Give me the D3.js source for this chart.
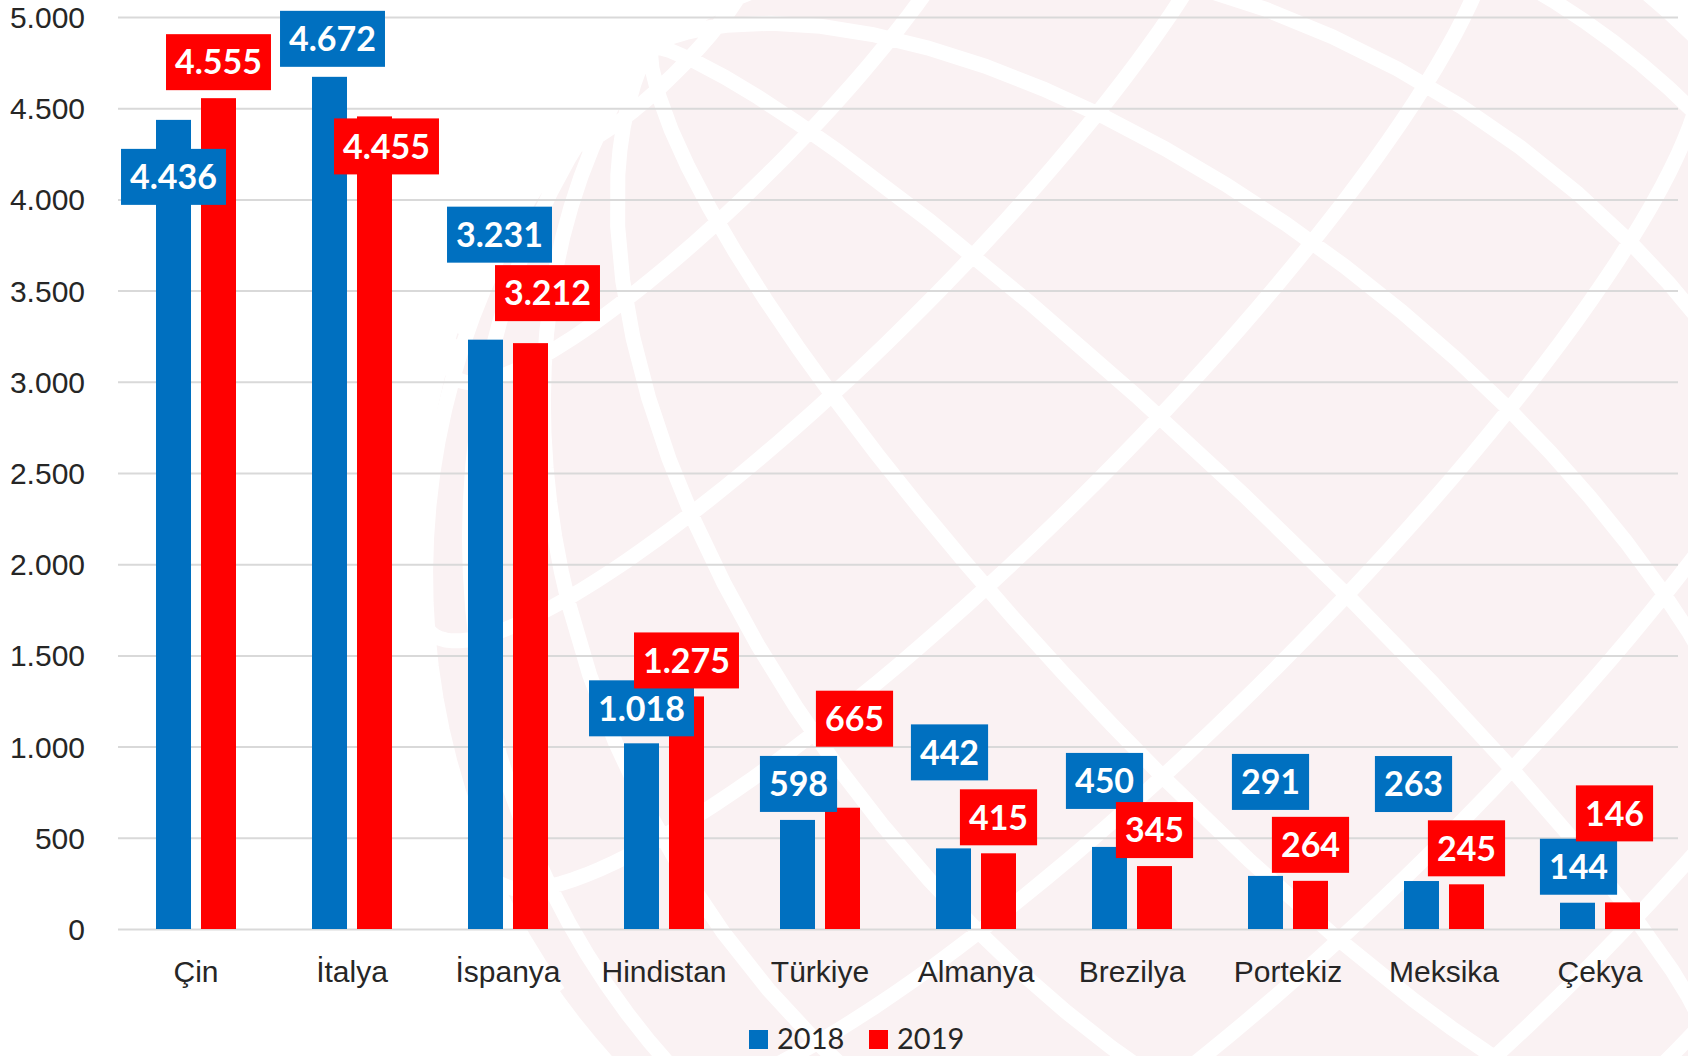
<!DOCTYPE html>
<html>
<head>
<meta charset="utf-8">
<script src="https://cdn.jsdelivr.net/npm/d3@7"></script>
<style>
  body { margin: 0; background: #fff; }
  svg { display: block; font-family: Lato, "Open Sans", sans-serif; }
  .grid line { stroke: #d9d9d9; stroke-width: 2; }
  .grid path { display: none; }
  .axis path { display: none; }
  .axis text { fill: #262626; font-size: 30px; }
  .bar-label { fill: #fff; font-size: 34px; font-weight: bold; }
  .legend text { fill: #262626; font-size: 29px; }
</style>
</head>
<body>
<div id="chart"></div>
<script>
var categories = ['Çin', 'İtalya', 'İspanya', 'Hindistan', 'Türkiye', 'Almanya', 'Brezilya', 'Portekiz', 'Meksika', 'Çekya'];
var years = ['2018', '2019'];
var values2018 = [4436, 4672, 3231, 1018, 598, 442, 450, 291, 263, 144];
var values2019 = [4555, 4455, 3212, 1275, 665, 415, 345, 264, 245, 146];
var yTicks = [0, 500, 1000, 1500, 2000, 2500, 3000, 3500, 4000, 4500, 5000];

// hand-placed label nudges (dx, dy) from the default "above bar" spot
var labelShift2018 = [[0, 93], [3, -2], [14, -69], [0, 1], [1, 0], [-4, -60], [-5, -30], [5, -58], [-8, -61], [1, 0]];
var labelShift2019 = [[0, 0], [12, 66], [17, -14], [0, 0], [12, -53], [0, 0], [0, 0], [0, 0], [0, 0], [-8, -53]];

var colors = {'2018': '#0070c0', '2019': '#ff0000'};

function draw_chart() {
  var W = 1688, H = 1056;
  var margin = {top: 17, right: 10, bottom: 127, left: 118},
    width  = W - margin.left - margin.right,
    height = H - margin.top - margin.bottom;

  var fmt = d3.formatLocale({decimal: ',', thousands: '.', grouping: [3], currency: ['', '']}).format(',d');

  var svg = d3.select('#chart').append('svg')
    .attr('width', W)
    .attr('height', H);

  // faint globe in the background
  var globe = d3.geoOrthographic()
    .scale(745)
    .translate([1165, 560])
    .rotate([8, -12, 45]);
  var geoPath = d3.geoPath(globe);

  var bg = svg.append('g').attr('class', 'globe');
  bg.append('path')
    .datum({type: 'Sphere'})
    .attr('d', geoPath)
    .attr('fill', '#faf2f3');
  bg.append('path')
    .datum(d3.geoGraticule().step([20, 20])())
    .attr('d', geoPath)
    .attr('fill', 'none')
    .attr('stroke', '#fff')
    .attr('stroke-width', 15);
  bg.append('path')
    .datum({type: 'Sphere'})
    .attr('d', geoPath)
    .attr('fill', 'none')
    .attr('stroke', '#fff')
    .attr('stroke-width', 4);

  var x0 = d3.scaleBand().domain(categories).range([0, width]);
  var x1 = d3.scaleBand().domain(years).range([0, 80]).paddingInner(0.222);
  var y = d3.scaleLinear().domain([0, 5000]).range([height, 0]);

  var plot = svg.append('g')
    .attr('transform', 'translate(' + margin.left + ',' + margin.top + ')');

  plot.append('g')
    .attr('class', 'grid')
    .call(d3.axisLeft(y).tickValues(yTicks).tickSize(-(1678 - margin.left)).tickFormat(''));

  plot.append('g')
    .attr('class', 'axis y')
    .attr('transform', 'translate(-33,0)')
    .call(d3.axisLeft(y).tickValues(yTicks).tickSize(0).tickPadding(0).tickFormat(fmt))
    .selectAll('text').attr('dy', '0.35em');

  var xAxis = plot.append('g')
    .attr('class', 'axis x')
    .attr('transform', 'translate(0,' + height + ')')
    .call(d3.axisBottom(x0).tickSize(0).tickPadding(32));
  xAxis.selectAll('text').attr('dy', '0.71em');

  var rows = categories.map(function(c, i) {
    return {cat: c, vals: [
      {year: '2018', value: values2018[i], shift: labelShift2018[i]},
      {year: '2019', value: values2019[i], shift: labelShift2019[i]}
    ]};
  });

  var groups = plot.selectAll('.cat')
      .data(rows)
    .enter().append('g')
      .attr('class', 'cat')
      .attr('transform', function(d) { return 'translate(' + (x0(d.cat) + x0.bandwidth() / 2 - 40) + ',0)'; });

  groups.selectAll('rect.bar')
      .data(function(d) { return d.vals; })
    .enter().append('rect')
      .attr('class', 'bar')
      .attr('x', function(d) { return x1(d.year); })
      .attr('y', function(d) { return y(d.value); })
      .attr('width', x1.bandwidth())
      .attr('height', function(d) { return height - y(d.value); })
      .attr('fill', function(d) { return colors[d.year]; });

  // data labels: coloured boxes with white numbers
  var labels = plot.append('g').attr('class', 'labels');
  rows.forEach(function(r) {
    r.vals.forEach(function(d) {
      var cx = x0(r.cat) + x0.bandwidth() / 2 - 40 + x1(d.year) + x1.bandwidth() / 2 + d.shift[0];
      var cy = y(d.value) - 36 + d.shift[1];
      var g = labels.append('g').attr('transform', 'translate(' + cx + ',' + cy + ')');
      var box = g.append('rect').attr('fill', colors[d.year]);
      var t = g.append('text')
        .attr('class', 'bar-label')
        .attr('text-anchor', 'middle')
        .attr('dy', '0.36em')
        .text(fmt(d.value));
      var tw = t.node().getComputedTextLength() + 18;
      box.attr('x', -tw / 2).attr('y', -28).attr('width', tw).attr('height', 56);
    });
  });

  var legend = svg.append('g')
    .attr('class', 'legend')
    .attr('transform', 'translate(749,1030)');

  var item = legend.selectAll('g')
      .data(years)
    .enter().append('g')
      .attr('transform', function(d, i) { return 'translate(' + (i * 120) + ',0)'; });

  item.append('rect')
    .attr('width', 19)
    .attr('height', 19)
    .attr('fill', function(d) { return colors[d]; });

  item.append('text')
    .attr('x', 28)
    .attr('y', 19)
    .text(function(d) { return d; });
}

draw_chart();
</script>
</body>
</html>
